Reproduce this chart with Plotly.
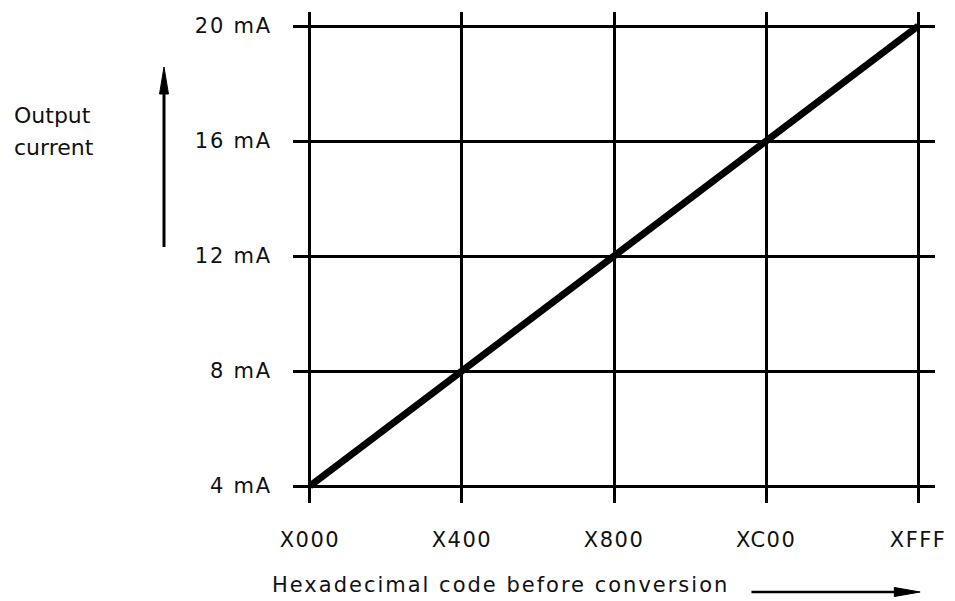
import plotly.graph_objects as go

# Data
codes = [0, 1024, 2048, 3072, 4095]
code_labels = ["X000", "X400", "X800", "XC00", "XFFF"]
current_ma = [4, 8, 12, 16, 20]
current_labels = ["4 mA", "8 mA", "12 mA", "16 mA", "20 mA"]

W, H = 955, 601
L, R, T, B = 293, 15, 12, 98
pw, ph = W - L - R, H - T - B

def px(xp):
    return (xp - L) / pw

def py(yp):
    return (T + ph - yp) / ph

FONT = "DejaVu Sans"
TXT = "#111111"

fig = go.Figure()
fig.add_trace(go.Scatter(
    x=codes, y=current_ma, mode="lines",
    line=dict(color="black", width=7),
    hoverinfo="skip", showlegend=False,
))

shapes = [
    # vertical arrow (Output current)
    dict(type="line", xref="paper", yref="paper",
         x0=px(163), x1=px(163), y0=py(247), y1=py(90),
         line=dict(color="black", width=3)),
    dict(type="path", xref="paper", yref="paper",
         path=f"M {px(163)} {py(67)} L {px(158.5)} {py(94)} L {px(167.5)} {py(94)} Z",
         fillcolor="black", line=dict(color="black", width=1)),
    # horizontal arrow (Hexadecimal code)
    dict(type="line", xref="paper", yref="paper",
         x0=px(755), x1=px(902), y0=py(592), y1=py(592),
         line=dict(color="black", width=2.5)),
    dict(type="path", xref="paper", yref="paper",
         path=f"M {px(925)} {py(592)} L {px(899)} {py(587.5)} L {px(899)} {py(596.5)} Z",
         fillcolor="black", line=dict(color="black", width=1)),
]

fig.update_layout(
    width=W, height=H,
    margin=dict(l=L, r=R, t=T, b=B),
    paper_bgcolor="white", plot_bgcolor="white",
    font=dict(family=FONT, color=TXT, size=21),
    xaxis=dict(
        range=[-113.6, 4208.6], tickvals=codes, ticktext=code_labels,
        showgrid=True, gridcolor="black", gridwidth=2.6,
        zeroline=False, showline=False, ticks="",
        ticklabelstandoff=22, tickfont=dict(size=21, family=FONT, color=TXT),
        fixedrange=True,
    ),
    yaxis=dict(
        range=[3.409, 20.487], tickvals=current_ma, ticktext=current_labels,
        showgrid=True, gridcolor="black", gridwidth=2.6,
        zeroline=False, showline=False, ticks="",
        ticklabelstandoff=20, tickfont=dict(size=21, family=FONT, color=TXT),
        fixedrange=True,
    ),
    shapes=shapes,
    annotations=[
        dict(text="Output", xref="paper", yref="paper",
             x=px(10), y=py(115), xanchor="left", yanchor="middle",
             align="left", showarrow=False, font=dict(size=22, family=FONT, color=TXT)),
        dict(text="current", xref="paper", yref="paper",
             x=px(10), y=py(147), xanchor="left", yanchor="middle",
             align="left", showarrow=False, font=dict(size=22, family=FONT, color=TXT)),
        dict(text="Hexadecimal code before conversion", xref="paper", yref="paper",
             x=px(270), y=py(585), xanchor="left", yanchor="middle",
             align="left", showarrow=False, font=dict(size=21, family=FONT, color=TXT)),
    ],
)

post = """
document.body.style.margin='0';
var gd=document.getElementById('{plot_id}');
gd.querySelectorAll('.xtick text').forEach(function(t){t.style.letterSpacing='1.5px';});
gd.querySelectorAll('.ytick text').forEach(function(t){t.style.letterSpacing='1.8px';});
gd.querySelectorAll('.annotation-text').forEach(function(t){
  if(t.textContent.indexOf('Hexa')===0){t.style.letterSpacing='2px';}
});
"""

fig.write_html("out.html", post_script=post, config={"displayModeBar": False})
